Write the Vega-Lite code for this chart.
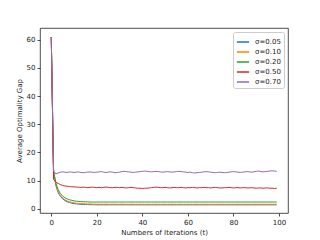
{
  "$schema": "https://vega.github.io/schema/vega-lite/v6.json",
  "autosize": {"type": "none"},
  "width": 248,
  "height": 185,
  "padding": {"left": 40, "top": 28, "right": 32, "bottom": 27},
  "background": "white",
  "config": {
    "font": "DejaVu Sans",
    "view": {"stroke": "#222", "strokeWidth": 0.8},
    "axis": {"grid": false, "domain": false, "tickColor": "#222", "tickSize": 3, "tickWidth": 0.8, "labelColor": "#222", "labelFontSize": 7, "titleFontSize": 7, "titleFontWeight": "normal", "titleColor": "#222", "labelPadding": 2}
  },
  "data": {"values": [
    {"t":0,"a":61.0,"b":61.0,"c":61.0,"d":61.0,"e":61.0},
    {"t":1,"a":14.0,"b":13.5,"c":13.0,"d":10.4,"e":13.4},
    {"t":2,"a":8.3,"b":8.6,"c":9.2,"d":9.5,"e":12.4},
    {"t":3,"a":5.8,"b":6.1,"c":6.8,"d":9.0,"e":12.7},
    {"t":4,"a":4.4,"b":4.7,"c":5.4,"d":8.6,"e":13.0},
    {"t":5,"a":3.5,"b":3.8,"c":4.5,"d":8.3,"e":13.1},
    {"t":6,"a":2.9,"b":3.2,"c":3.9,"d":8.1,"e":13.0},
    {"t":7,"a":2.5,"b":2.8,"c":3.5,"d":8.0,"e":12.9},
    {"t":8,"a":2.2,"b":2.5,"c":3.2,"d":7.9,"e":13.1},
    {"t":9,"a":2.0,"b":2.3,"c":3.0,"d":7.8,"e":13.0},
    {"t":10,"a":1.85,"b":2.1,"c":2.8,"d":7.8,"e":12.9},
    {"t":11,"a":1.75,"b":2.0,"c":2.7,"d":7.7,"e":13.0},
    {"t":12,"a":1.65,"b":1.9,"c":2.6,"d":7.7,"e":13.1},
    {"t":13,"a":1.6,"b":1.85,"c":2.55,"d":7.6,"e":12.9},
    {"t":14,"a":1.55,"b":1.8,"c":2.5,"d":7.7,"e":12.8},
    {"t":15,"a":1.5,"b":1.75,"c":2.45,"d":7.6,"e":12.9},
    {"t":16,"a":1.5,"b":1.7,"c":2.45,"d":7.5,"e":13.0},
    {"t":17,"a":1.45,"b":1.7,"c":2.4,"d":7.6,"e":13.1},
    {"t":18,"a":1.45,"b":1.65,"c":2.4,"d":7.7,"e":13.0},
    {"t":19,"a":1.45,"b":1.65,"c":2.4,"d":7.6,"e":12.9},
    {"t":20,"a":1.4,"b":1.65,"c":2.4,"d":7.5,"e":13.0},
    {"t":21,"a":1.4,"b":1.6,"c":2.4,"d":7.6,"e":13.1},
    {"t":22,"a":1.4,"b":1.65,"c":2.4,"d":7.5,"e":13.2},
    {"t":23,"a":1.4,"b":1.6,"c":2.4,"d":7.6,"e":13.0},
    {"t":24,"a":1.4,"b":1.65,"c":2.4,"d":7.7,"e":12.9},
    {"t":25,"a":1.4,"b":1.6,"c":2.4,"d":7.6,"e":13.0},
    {"t":26,"a":1.4,"b":1.6,"c":2.4,"d":7.5,"e":13.1},
    {"t":27,"a":1.4,"b":1.65,"c":2.4,"d":7.5,"e":13.0},
    {"t":28,"a":1.4,"b":1.6,"c":2.4,"d":7.6,"e":12.8},
    {"t":29,"a":1.4,"b":1.6,"c":2.4,"d":7.6,"e":12.9},
    {"t":30,"a":1.4,"b":1.6,"c":2.4,"d":7.5,"e":13.0},
    {"t":31,"a":1.4,"b":1.65,"c":2.4,"d":7.6,"e":13.2},
    {"t":32,"a":1.4,"b":1.6,"c":2.4,"d":7.5,"e":13.3},
    {"t":33,"a":1.4,"b":1.6,"c":2.4,"d":7.4,"e":13.2},
    {"t":34,"a":1.4,"b":1.6,"c":2.4,"d":7.5,"e":13.1},
    {"t":35,"a":1.4,"b":1.6,"c":2.4,"d":7.6,"e":13.0},
    {"t":36,"a":1.4,"b":1.6,"c":2.4,"d":7.5,"e":12.9},
    {"t":37,"a":1.4,"b":1.6,"c":2.4,"d":7.4,"e":13.0},
    {"t":38,"a":1.4,"b":1.6,"c":2.4,"d":7.3,"e":13.1},
    {"t":39,"a":1.4,"b":1.6,"c":2.4,"d":7.3,"e":13.2},
    {"t":40,"a":1.4,"b":1.6,"c":2.4,"d":7.2,"e":13.3},
    {"t":41,"a":1.4,"b":1.6,"c":2.4,"d":7.3,"e":13.4},
    {"t":42,"a":1.4,"b":1.6,"c":2.4,"d":7.3,"e":13.3},
    {"t":43,"a":1.4,"b":1.6,"c":2.4,"d":7.4,"e":13.2},
    {"t":44,"a":1.4,"b":1.6,"c":2.4,"d":7.5,"e":13.1},
    {"t":45,"a":1.4,"b":1.6,"c":2.4,"d":7.6,"e":13.2},
    {"t":46,"a":1.4,"b":1.6,"c":2.4,"d":7.7,"e":13.3},
    {"t":47,"a":1.4,"b":1.6,"c":2.4,"d":7.6,"e":13.2},
    {"t":48,"a":1.4,"b":1.6,"c":2.4,"d":7.5,"e":13.1},
    {"t":49,"a":1.4,"b":1.6,"c":2.4,"d":7.5,"e":13.0},
    {"t":50,"a":1.4,"b":1.6,"c":2.4,"d":7.6,"e":13.1},
    {"t":51,"a":1.4,"b":1.6,"c":2.4,"d":7.5,"e":13.2},
    {"t":52,"a":1.4,"b":1.6,"c":2.4,"d":7.4,"e":13.1},
    {"t":53,"a":1.4,"b":1.6,"c":2.4,"d":7.5,"e":13.0},
    {"t":54,"a":1.4,"b":1.6,"c":2.4,"d":7.6,"e":13.1},
    {"t":55,"a":1.4,"b":1.6,"c":2.4,"d":7.5,"e":13.2},
    {"t":56,"a":1.4,"b":1.6,"c":2.4,"d":7.5,"e":13.3},
    {"t":57,"a":1.4,"b":1.6,"c":2.4,"d":7.6,"e":13.2},
    {"t":58,"a":1.4,"b":1.6,"c":2.4,"d":7.5,"e":13.1},
    {"t":59,"a":1.4,"b":1.6,"c":2.4,"d":7.4,"e":13.0},
    {"t":60,"a":1.4,"b":1.6,"c":2.4,"d":7.5,"e":12.9},
    {"t":61,"a":1.4,"b":1.6,"c":2.4,"d":7.5,"e":13.0},
    {"t":62,"a":1.4,"b":1.6,"c":2.4,"d":7.6,"e":12.8},
    {"t":63,"a":1.4,"b":1.6,"c":2.4,"d":7.5,"e":12.7},
    {"t":64,"a":1.4,"b":1.6,"c":2.4,"d":7.4,"e":12.8},
    {"t":65,"a":1.4,"b":1.6,"c":2.4,"d":7.5,"e":12.9},
    {"t":66,"a":1.4,"b":1.6,"c":2.4,"d":7.5,"e":13.0},
    {"t":67,"a":1.4,"b":1.6,"c":2.4,"d":7.6,"e":13.1},
    {"t":68,"a":1.4,"b":1.6,"c":2.4,"d":7.5,"e":13.2},
    {"t":69,"a":1.4,"b":1.6,"c":2.4,"d":7.5,"e":13.1},
    {"t":70,"a":1.4,"b":1.6,"c":2.4,"d":7.4,"e":13.0},
    {"t":71,"a":1.4,"b":1.6,"c":2.4,"d":7.5,"e":12.9},
    {"t":72,"a":1.4,"b":1.6,"c":2.4,"d":7.6,"e":12.8},
    {"t":73,"a":1.4,"b":1.6,"c":2.4,"d":7.5,"e":12.9},
    {"t":74,"a":1.4,"b":1.6,"c":2.4,"d":7.4,"e":13.0},
    {"t":75,"a":1.4,"b":1.6,"c":2.4,"d":7.4,"e":12.9},
    {"t":76,"a":1.4,"b":1.6,"c":2.4,"d":7.5,"e":12.8},
    {"t":77,"a":1.4,"b":1.6,"c":2.4,"d":7.5,"e":12.9},
    {"t":78,"a":1.4,"b":1.6,"c":2.4,"d":7.6,"e":13.0},
    {"t":79,"a":1.4,"b":1.6,"c":2.4,"d":7.5,"e":13.1},
    {"t":80,"a":1.4,"b":1.6,"c":2.4,"d":7.4,"e":13.2},
    {"t":81,"a":1.4,"b":1.6,"c":2.4,"d":7.5,"e":13.1},
    {"t":82,"a":1.4,"b":1.6,"c":2.4,"d":7.5,"e":13.0},
    {"t":83,"a":1.4,"b":1.6,"c":2.4,"d":7.4,"e":12.9},
    {"t":84,"a":1.4,"b":1.6,"c":2.4,"d":7.5,"e":13.0},
    {"t":85,"a":1.4,"b":1.6,"c":2.4,"d":7.5,"e":13.1},
    {"t":86,"a":1.4,"b":1.6,"c":2.4,"d":7.4,"e":13.2},
    {"t":87,"a":1.4,"b":1.6,"c":2.4,"d":7.4,"e":13.1},
    {"t":88,"a":1.4,"b":1.6,"c":2.4,"d":7.5,"e":13.0},
    {"t":89,"a":1.4,"b":1.6,"c":2.4,"d":7.4,"e":13.1},
    {"t":90,"a":1.4,"b":1.6,"c":2.4,"d":7.3,"e":13.3},
    {"t":91,"a":1.4,"b":1.6,"c":2.4,"d":7.4,"e":13.4},
    {"t":92,"a":1.4,"b":1.6,"c":2.4,"d":7.4,"e":13.2},
    {"t":93,"a":1.4,"b":1.6,"c":2.4,"d":7.3,"e":13.1},
    {"t":94,"a":1.4,"b":1.6,"c":2.4,"d":7.4,"e":13.2},
    {"t":95,"a":1.4,"b":1.6,"c":2.4,"d":7.4,"e":13.3},
    {"t":96,"a":1.4,"b":1.6,"c":2.4,"d":7.3,"e":13.4},
    {"t":97,"a":1.4,"b":1.6,"c":2.4,"d":7.3,"e":13.5},
    {"t":98,"a":1.4,"b":1.6,"c":2.4,"d":7.2,"e":13.4},
    {"t":99,"a":1.4,"b":1.6,"c":2.4,"d":7.3,"e":13.3}
  ]},
  "transform": [
    {"fold": ["a", "b", "c", "d", "e"], "as": ["key", "v"]},
    {"lookup": "key", "from": {"data": {"values": [
      {"key": "a", "series": "σ=0.05"},
      {"key": "b", "series": "σ=0.10"},
      {"key": "c", "series": "σ=0.20"},
      {"key": "d", "series": "σ=0.50"},
      {"key": "e", "series": "σ=0.70"}
    ]}, "key": "key", "fields": ["series"]}}
  ],
  "mark": {"type": "line", "strokeWidth": 1, "clip": true},
  "encoding": {
    "x": {"field": "t", "type": "quantitative", "title": "Numbers of Iterations (t)",
      "scale": {"domain": [-4.95, 103.95], "nice": false, "zero": false},
      "axis": {"values": [0, 20, 40, 60, 80, 100], "titlePadding": 3}},
    "y": {"field": "v", "type": "quantitative", "title": "Average Optimality Gap",
      "scale": {"domain": [-1.5, 64.2], "nice": false, "zero": false},
      "axis": {"values": [0, 10, 20, 30, 40, 50, 60], "titlePadding": 4}},
    "color": {"field": "series", "type": "nominal", "title": null,
      "scale": {"domain": ["σ=0.05", "σ=0.10", "σ=0.20", "σ=0.50", "σ=0.70"],
                "range": ["#1f77b4", "#ff7f0e", "#2ca02c", "#d62728", "#9467bd"]},
      "legend": {"orient": "top-right", "offset": 4, "padding": 3, "strokeColor": "#ccc", "fillColor": "white", "cornerRadius": 2,
        "symbolType": "stroke", "symbolSize": 150, "symbolStrokeWidth": 1.5, "labelFontSize": 7, "labelColor": "#222", "rowPadding": 0, "symbolOffset": 0, "labelOffset": 5}}
  }
}
